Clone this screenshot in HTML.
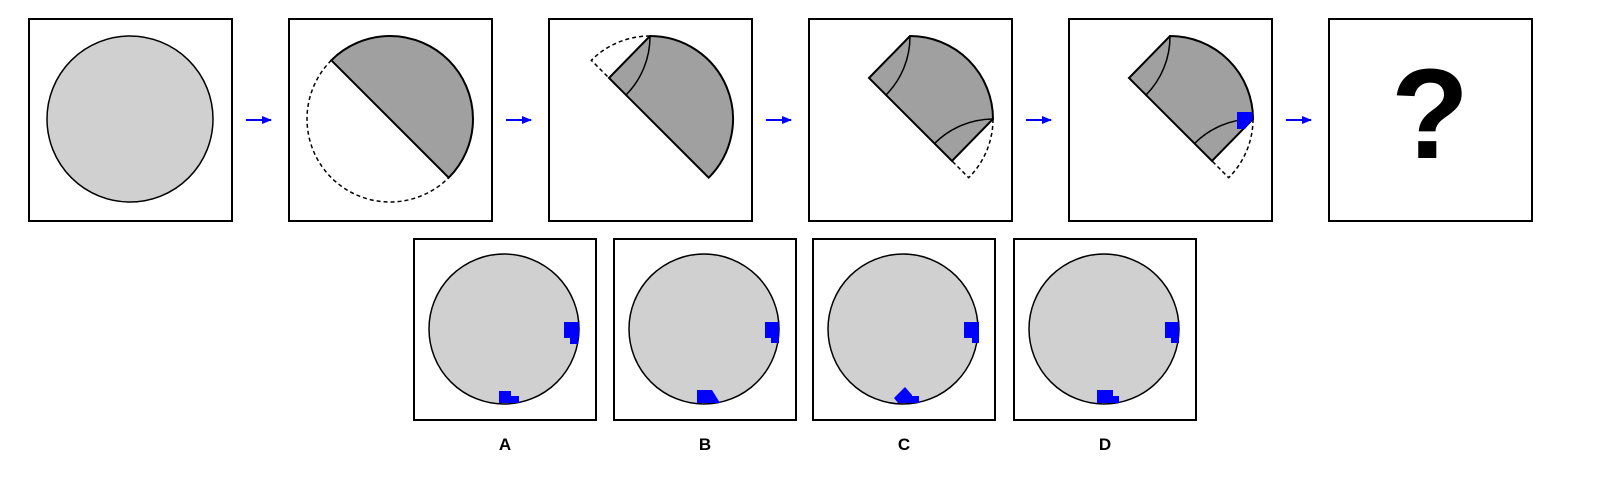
<!DOCTYPE html>
<html><head><meta charset="utf-8"><style>
html,body{margin:0;padding:0;background:#fff;}
svg{display:block;}
</style></head><body>
<svg width="1610" height="490" viewBox="0 0 1610 490" xmlns="http://www.w3.org/2000/svg">
<defs>
<marker id="ah" markerWidth="10" markerHeight="8" refX="9" refY="4" orient="auto" markerUnits="userSpaceOnUse"><path d="M0,0 L10,4 L0,8 Z" fill="#0000ff"/></marker>
</defs>
<g stroke="#000" stroke-width="2" fill="none">
<rect x="29" y="19" width="203" height="202"/>
<rect x="289" y="19" width="203" height="202"/>
<rect x="549" y="19" width="203" height="202"/>
<rect x="809" y="19" width="203" height="202"/>
<rect x="1069" y="19" width="203" height="202"/>
<rect x="1329" y="19" width="203" height="202"/>
</g>
<g stroke="#0000ff" stroke-width="2" marker-end="url(#ah)">
<line x1="246" y1="120" x2="271" y2="120"/>
<line x1="506" y1="120" x2="531" y2="120"/>
<line x1="766" y1="120" x2="791" y2="120"/>
<line x1="1026" y1="120" x2="1051" y2="120"/>
<line x1="1286" y1="120" x2="1311" y2="120"/>
</g>
<circle cx="130" cy="119" r="83" fill="#d0d0d0" stroke="#000" stroke-width="1.5"/>
<g stroke="#000" stroke-width="1.5">
<path d="M331.3,60.3 A83,83 0 0 1 448.7,177.7 Z" fill="#a0a0a0" stroke-width="2"/>
<path d="M331.3,60.3 A83,83 0 0 0 448.7,177.7" fill="none" stroke-dasharray="4,3"/>
</g>
<g stroke="#000" stroke-width="1.5">
<path d="M609,78 L650,36 A83,83 0 0 1 708.7,177.7 Z" fill="#a0a0a0" stroke-width="2"/>
<path d="M650,36 A83,83 0 0 1 626,95" fill="none"/>
<path d="M650,36 A83,83 0 0 0 591.3,60.3 L609,78" fill="none" stroke-dasharray="4,3"/>
</g>
<g stroke="#000" stroke-width="1.5">
<path d="M869,78 L910,36 A83,83 0 0 1 993,119 L952,161 Z" fill="#a0a0a0" stroke-width="2"/>
<path d="M910,36 A83,83 0 0 1 886,95" fill="none"/>
<path d="M993,119 A83,83 0 0 0 934,144" fill="none"/>
<path d="M993,119 A83,83 0 0 1 968.7,177.7 L952,161" fill="none" stroke-dasharray="4,3"/>
</g>
<g stroke="#000" stroke-width="1.5">
<path d="M1129,78 L1170,36 A83,83 0 0 1 1253,119 L1212,161 Z" fill="#a0a0a0" stroke-width="2"/>
<path d="M1170,36 A83,83 0 0 1 1146,95" fill="none"/>
<path d="M1253,119 A83,83 0 0 0 1194,144" fill="none"/>
<path d="M1253,119 A83,83 0 0 1 1228.7,177.7 L1212,161" fill="none" stroke-dasharray="4,3"/>
<polygon points="1237,112 1252,112 1253,119 1245,129 1237,129" fill="#0000ff" stroke="none"/>
</g>
<text x="1430" y="158" text-anchor="middle" font-family="Liberation Sans, sans-serif" font-weight="bold" font-size="128">?</text>

<g>
<rect x="414" y="239" width="182" height="181" fill="none" stroke="#000" stroke-width="2"/>
<circle cx="504" cy="329" r="75" fill="#d0d0d0" stroke="#000" stroke-width="1.5"/>
<path d="M564,322 H579 V338 H578 V344 H570 V338 H564 Z" fill="#0000ff"/>
<path d="M499,391 H511 V396 H519 V403 H499 Z" fill="#0000ff"/>
</g>
<g>
<rect x="614" y="239" width="182" height="181" fill="none" stroke="#000" stroke-width="2"/>
<circle cx="704" cy="329" r="75" fill="#d0d0d0" stroke="#000" stroke-width="1.5"/>
<path d="M765,322 H779 V343 H771 V338 H765 Z" fill="#0000ff"/>
<path d="M697,390 H712 L720,403 H697 Z" fill="#0000ff"/>
</g>
<g>
<rect x="813" y="239" width="182" height="181" fill="none" stroke="#000" stroke-width="2"/>
<circle cx="903" cy="329" r="75" fill="#d0d0d0" stroke="#000" stroke-width="1.5"/>
<path d="M964,322 H979 V343 H972 V338 H964 Z" fill="#0000ff"/>
<path d="M905,387 L912,395 V396 H919 V403 H898 L894,398 Z" fill="#0000ff"/>
</g>
<g>
<rect x="1014" y="239" width="182" height="181" fill="none" stroke="#000" stroke-width="2"/>
<circle cx="1104" cy="329" r="75" fill="#d0d0d0" stroke="#000" stroke-width="1.5"/>
<path d="M1165,322 H1179 V343 H1171 V338 H1165 Z" fill="#0000ff"/>
<path d="M1097,390 H1113 V396 H1119 V403 H1097 Z" fill="#0000ff"/>
</g>
<g font-family="Liberation Sans, sans-serif" font-weight="bold" font-size="17" text-anchor="middle" fill="#000">
<text x="505" y="450">A</text>
<text x="705" y="450">B</text>
<text x="904" y="450">C</text>
<text x="1105" y="450">D</text>
</g>
</svg>
</body></html>
